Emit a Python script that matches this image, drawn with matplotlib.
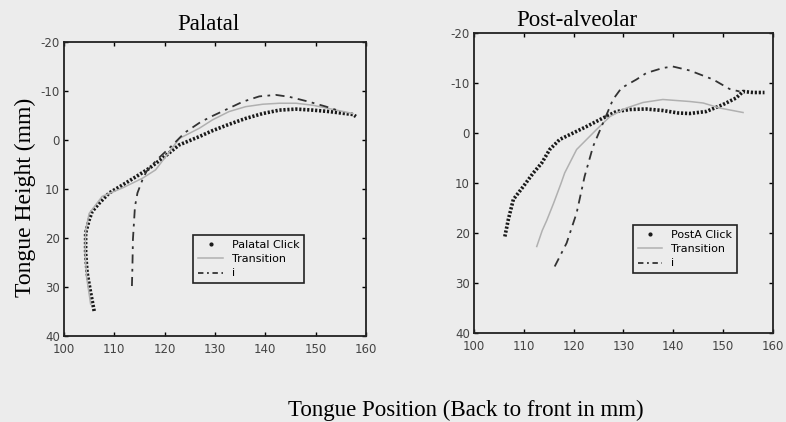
import numpy as np
import matplotlib
matplotlib.use("Agg")
import matplotlib.pyplot as plt
from matplotlib.lines import Line2D

# Palatal (left panel)
pal_click_x = [106.0, 105.3, 104.6, 104.3, 104.3, 105.0, 105.6, 107.0, 109.0, 111.6, 114.3, 116.9,
               119.6, 122.9, 126.9, 129.5, 132.8, 136.1, 139.5, 142.8, 146.1, 149.4, 152.7, 157.4, 158.0]
pal_click_y = [34.9, 31.2, 27.1, 23.1, 19.0, 16.3, 14.6, 12.9, 10.8, 9.2, 7.5, 5.8,
               3.7, 1.0, -0.7, -1.9, -3.2, -4.4, -5.4, -6.1, -6.3, -6.1, -5.8, -5.2, -4.8]
pal_trans_x = [105.3, 104.5, 104.2, 104.3, 105.0, 107.6, 111.6, 115.6, 118.2, 120.5, 122.9,
               126.9, 129.5, 132.8, 136.1, 139.5, 142.8, 146.1, 149.4, 152.7, 157.4]
pal_trans_y = [33.5, 28.0, 23.0, 18.5, 15.0, 11.5, 9.8, 7.8, 6.1, 3.0, -0.3,
               -2.4, -4.1, -5.8, -6.8, -7.3, -7.5, -7.5, -7.1, -6.4, -5.4]
pal_i_x = [113.5, 113.6, 113.7, 114.1, 114.6, 115.6, 116.4, 118.5, 121.6, 124.0, 127.2, 129.5,
           132.2, 135.5, 138.8, 142.1, 144.8, 148.7, 152.1, 154.5]
pal_i_y = [29.8, 25.8, 20.3, 13.6, 10.8, 8.1, 6.4, 4.0, 1.0, -1.5, -3.7, -4.9,
           -6.2, -7.8, -8.9, -9.2, -8.8, -7.8, -6.8, -6.0]

# Post-alveolar (right panel)
post_click_x = [106.2, 106.9, 107.9, 109.9, 111.9, 113.6, 115.2, 117.2, 119.9, 122.6, 125.9, 128.6,
                131.3, 134.5, 137.9, 141.0, 143.3, 146.6, 150.0, 152.6, 154.0, 156.0, 158.3]
post_click_y = [20.7, 17.3, 13.3, 10.7, 8.0, 6.0, 3.3, 1.3, 0.0, -1.3, -3.0, -4.3,
                -4.7, -4.8, -4.5, -4.0, -3.9, -4.3, -5.7, -7.0, -8.3, -8.1, -8.1]
post_trans_x = [112.6, 113.7, 114.6, 116.0, 117.5, 118.2, 120.6, 124.6, 127.3, 130.6, 133.9,
                137.9, 143.3, 146.0, 149.3, 154.0]
post_trans_y = [22.7, 19.5, 17.5, 14.0, 10.0, 8.0, 3.3, -0.7, -3.3, -5.0, -6.1,
                -6.7, -6.3, -6.0, -5.0, -4.1]
post_i_x = [116.2, 118.6, 120.6, 122.2, 123.9, 125.9, 127.9, 129.6, 132.6, 134.6, 137.9, 139.9,
            143.3, 148.0, 151.3, 153.3]
post_i_y = [26.7, 22.0, 16.0, 8.7, 2.7, -2.0, -6.7, -9.0, -10.7, -12.0, -13.0, -13.3,
            -12.5, -10.7, -8.8, -8.3]

x_ticks = [100, 110, 120, 130, 140, 150, 160]
y_ticks = [-20, -10, 0, 10, 20, 30, 40]

bg = "#ececec"
plt.rcParams["axes.unicode_minus"] = False
serif = "Liberation Serif"

fig = plt.figure(figsize=(7.86, 4.22), dpi=100, facecolor=bg)


def draw_panel(ax, cx, cy, tx, ty, ix, iy, click_label, leg_anchor):
    ax.set_facecolor(bg)
    # click: dense dots, transition: light gray, i: dash-dot
    ax.plot(cx, cy, color="#1a1a1a", lw=2.6, ls=(0, (0.6, 0.5)))
    ax.plot(tx, ty, color="#b0b0b0", lw=1.1)
    ax.plot(ix, iy, color="#333333", lw=1.3, ls=(0, (5, 3, 1.5, 3)))

    ax.set_xlim(100, 160)
    ax.set_ylim(40, -20)
    ax.set_xticks(x_ticks)
    ax.set_yticks(y_ticks)
    ax.tick_params(direction="in", length=3, width=1, top=True, right=True,
                   labelsize=8.5, labelcolor="#444444")
    ax.tick_params(axis="x", pad=5)
    ax.tick_params(axis="y", pad=3)
    for sp in ax.spines.values():
        sp.set_color("#222222")
        sp.set_linewidth(1.3)

    handles = [Line2D([], [], color="#1a1a1a", marker=".", ls="none", markersize=4),
               Line2D([], [], color="#b0b0b0", lw=1.1),
               Line2D([], [], color="#333333", lw=1.3, ls=(0, (3, 2, 1, 2)))]
    leg = ax.legend(handles, [click_label, "Transition", "i"], loc="upper left",
                    bbox_to_anchor=leg_anchor, fontsize=8, fancybox=False,
                    framealpha=1, facecolor=bg, edgecolor="#222222",
                    handlelength=2.2, labelspacing=0.4, borderpad=0.45)
    leg.get_frame().set_linewidth(1.2)


ax1 = fig.add_axes([0.0814, 0.2038, 0.3842, 0.6967])
draw_panel(ax1, pal_click_x, pal_click_y, pal_trans_x, pal_trans_y, pal_i_x, pal_i_y,
           "Palatal Click", (0.41, 0.364))

ax2 = fig.add_axes([0.603, 0.2109, 0.3804, 0.7109])
draw_panel(ax2, post_click_x, post_click_y, post_trans_x, post_trans_y, post_i_x, post_i_y,
           "PostA Click", (0.512, 0.38))

fig.text(208 / 786, 1 - 24 / 422, "Palatal", ha="center", va="center", fontsize=16.5, family=serif)
fig.text(577 / 786, 1 - 20 / 422, "Post-alveolar", ha="center", va="center", fontsize=16.5, family=serif)
fig.text(25 / 786, 1 - 197 / 422, "Tongue Height (mm)", rotation=90, ha="center", va="center",
         fontsize=17, family=serif)
fig.text(466 / 786, 1 - 410 / 422, "Tongue Position (Back to front in mm)", ha="center", va="center",
         fontsize=16.5, family=serif)

fig.savefig("out.png", dpi=100, facecolor=bg)
